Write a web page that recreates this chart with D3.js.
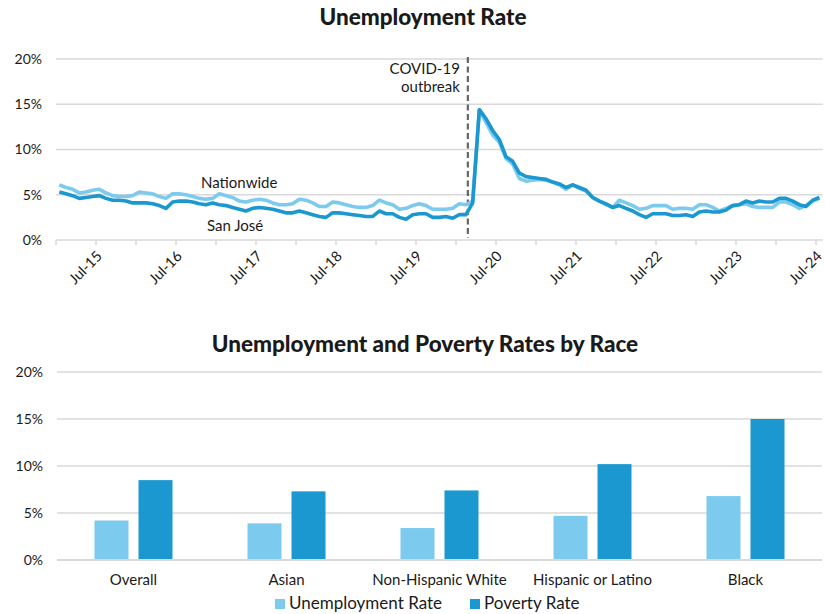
<!DOCTYPE html>
<html>
<head>
<meta charset="utf-8">
<script src="https://cdn.jsdelivr.net/npm/d3@7"></script>
<style>
  html, body { margin: 0; padding: 0; background: #fff; }
  svg { display: block; font-family: "Lato", "Open Sans", sans-serif; }
</style>
</head>
<body>
<svg id="chart" width="825" height="614"></svg>
<script>
// ---- Monthly unemployment rate, Jan 2015 – Jul 2024 (percent) ----
const nationwide = [
  6.1, 5.8, 5.6, 5.2, 5.3, 5.5, 5.6, 5.2, 4.9, 4.8, 4.8, 4.9,   // 2015
  5.3, 5.2, 5.1, 4.8, 4.6, 5.1, 5.1, 5.0, 4.8, 4.6, 4.5, 4.6,   // 2016
  5.1, 4.9, 4.7, 4.3, 4.2, 4.4, 4.5, 4.4, 4.1, 3.9, 3.9, 4.0,   // 2017
  4.5, 4.4, 4.1, 3.7, 3.7, 4.2, 4.1, 3.9, 3.7, 3.6, 3.6, 3.8,   // 2018
  4.4, 4.1, 3.9, 3.4, 3.5, 3.8, 4.0, 3.8, 3.4, 3.4, 3.4, 3.5,   // 2019
  4.0, 3.9, 4.3, 14.4, 13.0, 11.6, 10.8, 9.0, 8.4, 6.8, 6.5, 6.6, // 2020
  6.7, 6.6, 6.4, 6.1, 5.6, 6.1, 5.7, 5.4, 4.7, 4.3, 3.9, 3.6,   // 2021
  4.4, 4.1, 3.8, 3.4, 3.5, 3.8, 3.8, 3.8, 3.4, 3.5, 3.5, 3.4,   // 2022
  3.9, 3.9, 3.6, 3.2, 3.5, 3.8, 3.9, 4.0, 3.7, 3.6, 3.6, 3.6,   // 2023
  4.2, 4.2, 3.9, 3.5, 3.8, 4.3, 4.6                             // 2024
];
const sanJose = [
  5.3, 5.1, 4.9, 4.6, 4.7, 4.8, 4.9, 4.6, 4.4, 4.4, 4.3, 4.1,   // 2015
  4.1, 4.1, 4.0, 3.8, 3.5, 4.2, 4.3, 4.3, 4.2, 4.0, 3.9, 4.1,   // 2016
  3.9, 3.8, 3.6, 3.4, 3.2, 3.5, 3.6, 3.5, 3.4, 3.2, 3.0, 3.0,   // 2017
  3.2, 3.0, 2.8, 2.6, 2.5, 3.0, 3.0, 2.9, 2.8, 2.7, 2.6, 2.6,   // 2018
  3.2, 2.9, 2.9, 2.5, 2.3, 2.8, 2.9, 2.9, 2.5, 2.5, 2.6, 2.4,   // 2019
  2.8, 2.8, 4.1, 14.4, 13.4, 12.1, 11.1, 9.2, 8.7, 7.4, 7.0, 6.9, // 2020
  6.8, 6.7, 6.4, 6.2, 5.8, 6.1, 5.8, 5.5, 4.7, 4.3, 4.0, 3.6,   // 2021
  3.8, 3.5, 3.2, 2.8, 2.5, 2.9, 2.9, 2.9, 2.7, 2.7, 2.8, 2.6,   // 2022
  3.1, 3.2, 3.1, 3.1, 3.3, 3.8, 3.9, 4.3, 4.1, 4.3, 4.2, 4.2,   // 2023
  4.6, 4.6, 4.3, 3.9, 3.7, 4.4, 4.7                             // 2024
];
const firstMonth = new Date(2015, 0, 1);
const months = d3.timeMonth.range(firstMonth, d3.timeMonth.offset(firstMonth, nationwide.length));
const rateTicks = [0, 5, 10, 15, 20];
const covidMonth = new Date(2020, 2, 1);
const seriesNames = ["Nationwide", "San José"];

// ---- Unemployment and poverty by race (percent) ----
const raceCategories = ["Overall", "Asian", "Non-Hispanic White", "Hispanic or Latino", "Black"];
const unemploymentByRace = [4.2, 3.9, 3.4, 4.7, 6.8];
const povertyByRace = [8.5, 7.3, 7.4, 10.2, 15.0];
const barSeries = ["Unemployment Rate", "Poverty Rate"];

const LIGHT = "#7ccaee";
const DARK = "#1b98cf";
const GRID = "#d9d9d9";
const TEXT = "#1a1a1a";
const pct = d => d + "%";

const svg = d3.select("#chart");

// ================= Line chart =================
const lineBox = { left: 56, right: 822.7, y0: 240, y1: 59 };
const xMonth = d3.scaleBand().domain(months).range([lineBox.left, lineBox.right]).padding(0);
const xMid = d => xMonth(d) + xMonth.bandwidth() / 2;
const yTop = d3.scaleLinear().domain([0, 20]).range([lineBox.y0, lineBox.y1]);

svg.append("text").attr("x", 423).attr("y", 25).attr("text-anchor", "middle")
  .attr("font-size", 22.5).attr("font-weight", 900).attr("fill", TEXT).text("Unemployment Rate");

const gTop = svg.append("g");
gTop.append("g").selectAll("line").data(rateTicks).join("line")
  .attr("x1", lineBox.left).attr("x2", lineBox.right)
  .attr("y1", d => yTop(d)).attr("y2", d => yTop(d))
  .attr("stroke", GRID).attr("stroke-width", 1.5);

const yAxisTop = d3.axisLeft(yTop).tickValues(rateTicks).tickFormat(pct).tickSize(0).tickPadding(0);
gTop.append("g").attr("transform", `translate(${lineBox.left - 14},0)`).call(yAxisTop)
  .call(g => g.select(".domain").remove())
  .call(g => g.selectAll("text").attr("font-size", 14).attr("fill", TEXT).attr("font-family", "Lato, sans-serif"));

// x-axis: ticks every six months at band edges, labels on July
const halfYearTicks = months.filter(m => m.getMonth() % 6 === 0);
const julyTicks = months.filter(m => m.getMonth() === 6);
gTop.append("g").selectAll("line").data(halfYearTicks).join("line")
  .attr("x1", d => xMonth(d)).attr("x2", d => xMonth(d))
  .attr("y1", lineBox.y0).attr("y2", lineBox.y0 + 5)
  .attr("stroke", GRID).attr("stroke-width", 1.5);
const fmtMonth = d3.timeFormat("%b-%y");
gTop.append("g").selectAll("text").data(julyTicks).join("text")
  .attr("transform", d => `translate(${xMonth(d) + 7},${lineBox.y0 + 17}) rotate(-45)`)
  .attr("text-anchor", "end").attr("font-size", 14.5).attr("fill", TEXT)
  .text(d => fmtMonth(d));

// COVID-19 marker
const xCovid = xMonth(covidMonth) - 1.5;
gTop.append("line").attr("x1", xCovid).attr("x2", xCovid)
  .attr("y1", lineBox.y1 - 2).attr("y2", lineBox.y0 - 2)
  .attr("stroke", "#666").attr("stroke-width", 2.2).attr("stroke-dasharray", "6,3.5");
gTop.append("text").attr("x", xCovid - 8).attr("y", 74).attr("text-anchor", "end")
  .attr("font-size", 15).attr("fill", TEXT).text("COVID-19");
gTop.append("text").attr("x", xCovid - 8).attr("y", 92).attr("text-anchor", "end")
  .attr("font-size", 15).attr("fill", TEXT).text("outbreak");

// series lines
const line = d3.line().x((d, i) => xMid(months[i])).y(d => yTop(d));
gTop.append("path").datum(nationwide).attr("d", line)
  .attr("fill", "none").attr("stroke", LIGHT).attr("stroke-width", 3.6).attr("stroke-linejoin", "round");
gTop.append("path").datum(sanJose).attr("d", line)
  .attr("fill", "none").attr("stroke", DARK).attr("stroke-width", 3.6).attr("stroke-linejoin", "round");

gTop.append("text").attr("x", 201).attr("y", 188).attr("font-size", 15).attr("fill", TEXT).text(seriesNames[0]);
gTop.append("text").attr("x", 207).attr("y", 231).attr("font-size", 15).attr("fill", TEXT).text(seriesNames[1]);

// ================= Bar chart =================
const barBox = { left: 57, right: 822, y0: 560, y1: 372 };
const x0 = d3.scaleBand().domain(raceCategories).range([barBox.left, barBox.right]).padding(0);
const x1 = d3.scaleBand().domain(barSeries).range([0, x0.bandwidth()])
  .paddingInner(0.2273).paddingOuter(0.852);
const yBot = d3.scaleLinear().domain([0, 20]).range([barBox.y0, barBox.y1]);

svg.append("text").attr("x", 425).attr("y", 352).attr("text-anchor", "middle")
  .attr("font-size", 22.5).attr("font-weight", 900).attr("fill", TEXT)
  .text("Unemployment and Poverty Rates by Race");

const gBot = svg.append("g");
gBot.append("g").selectAll("line").data(rateTicks).join("line")
  .attr("x1", barBox.left).attr("x2", barBox.right)
  .attr("y1", d => yBot(d)).attr("y2", d => yBot(d))
  .attr("stroke", GRID).attr("stroke-width", d => d === 0 ? 2 : 1.5);

const yAxisBot = d3.axisLeft(yBot).tickValues(rateTicks).tickFormat(pct).tickSize(0).tickPadding(0);
gBot.append("g").attr("transform", `translate(${barBox.left - 14},0)`).call(yAxisBot)
  .call(g => g.select(".domain").remove())
  .call(g => g.selectAll("text").attr("font-size", 14).attr("fill", TEXT).attr("font-family", "Lato, sans-serif"));

const rows = raceCategories.map((c, i) => ({ c, vals: [unemploymentByRace[i], povertyByRace[i]] }));
const barColor = d3.scaleOrdinal().domain(barSeries).range([LIGHT, DARK]);
gBot.append("g").selectAll("g").data(rows).join("g")
  .attr("transform", d => `translate(${x0(d.c)},0)`)
  .selectAll("rect").data(d => d.vals.map((v, k) => ({ s: barSeries[k], v })))
  .join("rect")
  .attr("x", d => x1(d.s)).attr("width", x1.bandwidth())
  .attr("y", d => yBot(d.v)).attr("height", d => yBot(0) - yBot(d.v) - 1)
  .attr("fill", d => barColor(d.s));

gBot.append("g").selectAll("text").data(raceCategories).join("text")
  .attr("x", d => x0(d) + x0.bandwidth() / 2).attr("y", 585)
  .attr("text-anchor", "middle").attr("font-size", 15).attr("fill", TEXT).text(d => d);

// legend
const legendX = [275, 470];
const legend = gBot.append("g").selectAll("g").data(barSeries).join("g")
  .attr("transform", (d, i) => `translate(${legendX[i]},599)`);
legend.append("rect").attr("width", 10).attr("height", 10).attr("fill", d => barColor(d));
legend.append("text").attr("x", 14).attr("y", 10).attr("font-size", 17).attr("fill", TEXT).text(d => d);
</script>
</body>
</html>
